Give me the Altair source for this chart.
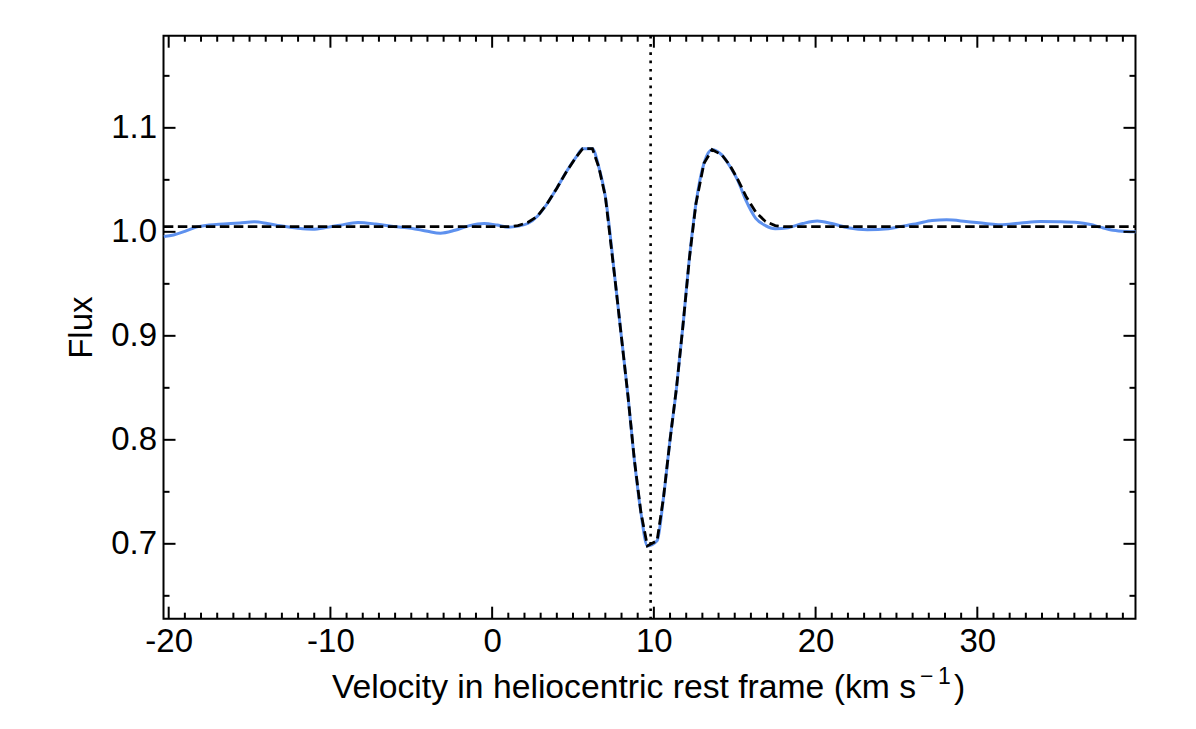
import altair as alt
import pandas as pd

# ---- data ----
# observed spectrum (blue)
obs_v = [-20.3, -19.7, -19.0, -18.3, -17.5, -16.6, -15.6, -14.7, -13.9, -13.1,
         -12.0, -11.1, -10.2, -9.4, -8.3, -7.2, -6.1, -5.0, -4.0, -3.2,
         -2.3, -1.4, -0.5, 0.3, 1.0, 1.6, 2.2, 2.8, 3.4, 4.0,
         4.6, 5.2, 5.6, 6.2, 6.6, 7.0, 7.6, 8.0, 8.4, 8.8,
         9.2, 9.6, 10.2, 10.6, 11.0, 11.4, 11.8, 12.2, 12.6, 13.1,
         13.6, 14.2, 14.7, 15.2, 15.7, 16.3, 16.9, 17.5, 18.3, 19.2,
         20.1, 21.0, 22.0, 23.2, 24.5, 25.2, 26.3, 27.2, 28.1, 29.3,
         30.5, 31.4, 32.7, 33.9, 35.0, 36.2, 37.0, 37.6, 38.4, 39.2, 39.8]
obs_f = [0.9955, 0.997, 1.0005, 1.0045, 1.0065, 1.0075, 1.0085, 1.0096, 1.008, 1.0058,
         1.0035, 1.0026, 1.0043, 1.0064, 1.009, 1.0075, 1.0051, 1.0035, 1.0005, 0.9987,
         1.0015, 1.006, 1.008, 1.0065, 1.0045, 1.0055, 1.008, 1.015, 1.027, 1.042,
         1.058, 1.072, 1.080, 1.080, 1.062, 1.034, 0.954, 0.898, 0.842, 0.78,
         0.73, 0.698, 0.703, 0.745, 0.80, 0.85, 0.91, 0.975, 1.027, 1.066,
         1.079, 1.074, 1.063, 1.049, 1.030, 1.013, 1.006, 1.003, 1.004, 1.008,
         1.0105, 1.008, 1.004, 1.002, 1.003, 1.005, 1.008, 1.011, 1.0115, 1.010,
         1.008, 1.0067, 1.0085, 1.0099, 1.0097, 1.009, 1.007, 1.0045, 1.0015, 1.0003, 1.0]

# model profile (black dashed)
mod_v = [-20.3, 1.0, 1.6, 2.2, 2.8, 3.4, 4.0, 4.6, 5.2, 5.6,
         6.2, 6.6, 7.0, 7.6, 8.0, 8.4, 8.8, 9.2, 9.6, 10.2,
         10.6, 11.0, 11.4, 11.8, 12.2, 12.6, 13.1, 13.6, 14.2, 14.7,
         15.2, 15.7, 16.3, 16.9, 17.5, 18.0, 39.8]
mod_f = [1.005, 1.005, 1.006, 1.009, 1.015, 1.027, 1.042, 1.058, 1.072, 1.080,
         1.080, 1.062, 1.034, 0.954, 0.898, 0.842, 0.78, 0.73, 0.698, 0.703,
         0.745, 0.80, 0.85, 0.91, 0.975, 1.027, 1.066, 1.079, 1.074, 1.064,
         1.050, 1.034, 1.019, 1.010, 1.006, 1.005, 1.005]

# line-centre marker (dotted)
centre_v = [9.8]

# tick values
x_major = [-20, -10, 0, 10, 20, 30]
x_minor = [v for v in range(-20, 40) if v % 10 != 0]
y_major = [0.7, 0.8, 0.9, 1.0, 1.1]
y_minor = [0.65, 0.75, 0.85, 0.95, 1.05, 1.15]

# axis title pieces
x_title_main = "Velocity in heliocentric rest frame (km s"
x_title_sup = "\u2212\u20091"
x_title_end = ")"
y_title = "Flux"

# ---- layout / style ----
W, H = 972, 583
XDOM = [-20.32, 39.78]
YDOM = [0.628, 1.1886]
FONT = "Liberation Sans"
FS = 33
MAJ, MIN = 12, 6

xscale = alt.Scale(domain=XDOM, nice=False, zero=False)
yscale = alt.Scale(domain=YDOM, nice=False, zero=False)

xaxis = alt.Axis(title=None, values=x_major, labelExpr="datum.value + ''",
                 ticks=False, tickSize=0, domain=False, grid=False,
                 labelFlush=False, labelPadding=7)
yaxis = alt.Axis(title=y_title, values=y_major,
                 labelExpr="format(datum.value, '.1f')",
                 ticks=False, tickSize=0, domain=False, grid=False,
                 labelFlush=False, labelPadding=7, titlePadding=12)


def X(field):
    return alt.X(f"{field}:Q", scale=xscale, axis=xaxis)


def Y(field):
    return alt.Y(f"{field}:Q", scale=yscale, axis=yaxis)


obs = pd.DataFrame({"v": obs_v, "f": obs_f})
mod = pd.DataFrame({"v": mod_v, "f": mod_f})

obs_line = alt.Chart(obs).mark_line(color="#5E91EE", strokeWidth=3,
                                    interpolate="monotone").encode(x=X("v"), y=Y("f"))
mod_line = alt.Chart(mod).mark_line(color="black", strokeWidth=2.8,
                                    strokeDash=[9.5, 4.5]).encode(x=X("v"), y=Y("f"))
centre = alt.Chart(pd.DataFrame({"v": centre_v})).mark_rule(
    color="black", strokeWidth=2.6, strokeDash=[2.7, 5.6]).encode(x=X("v"))

ticks = []
for vals, ln in ((x_major, MAJ), (x_minor, MIN)):
    df = pd.DataFrame({"v": vals})
    ticks.append(alt.Chart(df).mark_rule(color="black", strokeWidth=2).encode(
        x=X("v"), y=alt.value(H), y2=alt.value(H - ln)))
    ticks.append(alt.Chart(df).mark_rule(color="black", strokeWidth=2).encode(
        x=X("v"), y=alt.value(0), y2=alt.value(ln)))
for vals, ln in ((y_major, MAJ), (y_minor, MIN)):
    df = pd.DataFrame({"f": vals})
    ticks.append(alt.Chart(df).mark_rule(color="black", strokeWidth=2).encode(
        y=Y("f"), x=alt.value(0), x2=alt.value(ln)))
    ticks.append(alt.Chart(df).mark_rule(color="black", strokeWidth=2).encode(
        y=Y("f"), x=alt.value(W), x2=alt.value(W - ln)))

# x-axis title with a real superscript
TX = 752.5          # end of the main title text, relative to plot left
TY = H + 79         # title baseline, relative to plot top
title_main = alt.Chart(pd.DataFrame({"t": [x_title_main]})).mark_text(
    font=FONT, fontSize=33.7, align="right", baseline="alphabetic", color="black"
).encode(text="t:N", x=alt.value(TX), y=alt.value(TY))
title_sup = alt.Chart(pd.DataFrame({"t": [x_title_sup]})).mark_text(
    font=FONT, fontSize=23, align="left", baseline="alphabetic", color="black"
).encode(text="t:N", x=alt.value(TX + 4), y=alt.value(TY - 13.5))
title_end = alt.Chart(pd.DataFrame({"t": [x_title_end]})).mark_text(
    font=FONT, fontSize=33.7, align="left", baseline="alphabetic", color="black"
).encode(text="t:N", x=alt.value(TX + 38), y=alt.value(TY))

chart = alt.layer(obs_line, mod_line, centre, *ticks,
                  title_main, title_sup, title_end).properties(
    width=W, height=H,
    padding={"left": 155.5, "top": 27.7, "right": 30, "bottom": 100},
    autosize=alt.AutoSizeParams(type="none"),
).configure_view(
    stroke="black", strokeWidth=2
).configure_axis(
    labelFont=FONT, titleFont=FONT, labelFontSize=FS, titleFontSize=FS,
    labelColor="black", titleColor="black", titleFontWeight="normal"
)

chart.save("out.html", embed_options={"renderer": "svg", "actions": False})
